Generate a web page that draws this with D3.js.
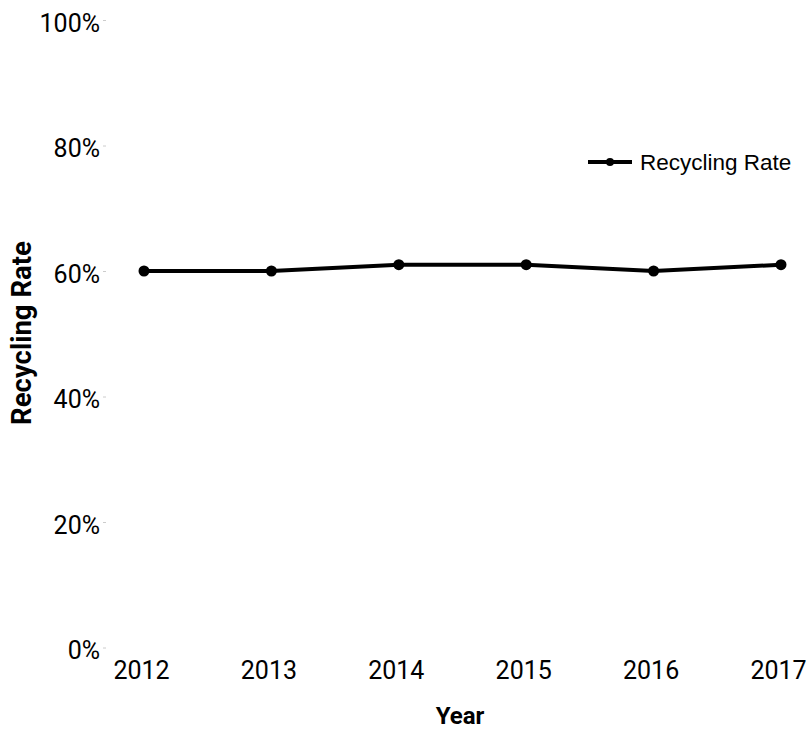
<!DOCTYPE html>
<html>
<head>
<meta charset="utf-8">
<script src="https://cdn.jsdelivr.net/npm/d3@7"></script>
<style>
  body { margin: 0; background: #fff; }
  .tick text { font-family: Roboto, sans-serif; font-size: 25px; fill: #000; }
  .axis-label { font-family: Roboto, sans-serif; font-weight: bold; fill: #000; }
  .legend text { font-family: "Liberation Sans", Arial, sans-serif; font-size: 22.5px; fill: #000; }
</style>
</head>
<body>
<div id="chart"></div>
<script>
const years = ["2012", "2013", "2014", "2015", "2016", "2017"];
const recyclingRate = [0.60, 0.60, 0.61, 0.61, 0.60, 0.61];
const yTicks = [0, 0.2, 0.4, 0.6, 0.8, 1.0];
const seriesName = "Recycling Rate";

const data = years.map((y, i) => ({ year: y, rate: recyclingRate[i] }));

const width = 810, height = 730;
const svg = d3.select("#chart")
    .append("svg")
    .attr("width", width)
    .attr("height", height);

const x = d3.scalePoint()
    .domain(years)
    .range([144, 781]);

const y = d3.scaleLinear()
    .domain([0, 1])
    .range([647.5, 20]);

// eje y
const yAxis = svg.append("g")
    .attr("transform", "translate(106,0)")
    .call(d3.axisLeft(y).tickValues(yTicks).tickFormat(d3.format(".0%")).tickSize(3).tickPadding(3));
yAxis.select(".domain").remove();
yAxis.selectAll(".tick line").attr("stroke", "#ccc");
yAxis.selectAll(".tick text").attr("dy", "0.45em");

// eje x
const xAxis = svg.append("g")
    .attr("transform", `translate(0,${y(0)})`)
    .call(d3.axisBottom(x).tickSize(0).tickPadding(14));
xAxis.select(".domain").remove();
xAxis.selectAll(".tick text").attr("dx", -3);

// linea
const line = d3.line()
    .x(d => x(d.year))
    .y(d => y(d.rate));

svg.append("path")
    .datum(data)
    .attr("fill", "none")
    .attr("stroke", "#000")
    .attr("stroke-width", 4)
    .attr("d", line);

svg.selectAll("circle.pt")
    .data(data)
    .enter()
    .append("circle")
    .attr("class", "pt")
    .attr("cx", d => x(d.year))
    .attr("cy", d => y(d.rate))
    .attr("r", 5.5)
    .attr("fill", "#000");

// leyenda
const legend = svg.append("g")
    .attr("class", "legend")
    .attr("transform", "translate(588,162)");
legend.append("line")
    .attr("x1", 0).attr("x2", 44)
    .attr("stroke", "#000")
    .attr("stroke-width", 4);
legend.append("circle")
    .attr("cx", 22).attr("r", 4)
    .attr("fill", "#000");
legend.append("text")
    .attr("x", 52)
    .attr("dy", "0.35em")
    .text(seriesName);

// Etiquetas de ejes
svg.append("text")
    .attr("class", "axis-label")
    .attr("x", 460)
    .attr("y", 724)
    .attr("text-anchor", "middle")
    .style("font-size", "24px")
    .text("Year");

svg.append("text")
    .attr("class", "axis-label")
    .attr("x", -333)
    .attr("y", 31)
    .attr("transform", "rotate(-90)")
    .attr("text-anchor", "middle")
    .style("font-size", "27.5px")
    .text("Recycling Rate");
</script>
</body>
</html>
